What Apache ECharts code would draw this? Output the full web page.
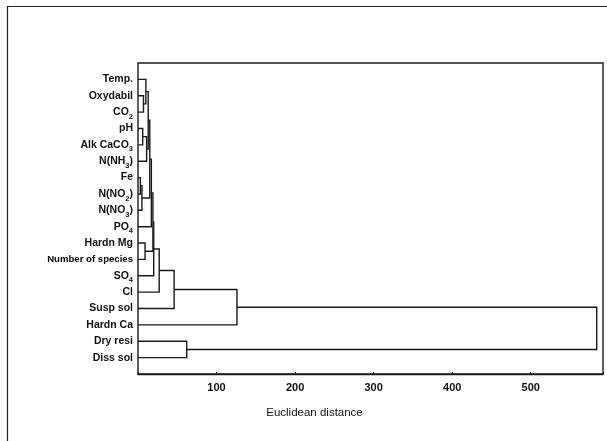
<!DOCTYPE html>
<html>
<head>
<meta charset="utf-8">
<script src="https://cdn.jsdelivr.net/npm/echarts@6/dist/echarts.min.js"></script>
<style>
html,body{margin:0;padding:0;background:#fff;}
#c{width:607px;height:441px;}
</style>
</head>
<body>
<div id="c"></div>
<script>
// Leaf variables, top to bottom (rich markup for subscripts)
const leafNames = ['Temp.', 'Oxydabil', 'CO{s|2}', 'pH', 'Alk CaCO{s|3}', 'N(NH{s|3})', 'Fe',
  'N(NO{s|2})', 'N(NO{s|3})', 'PO{s|4}', 'Hardn Mg', '{n|Number of species}', 'SO{s|4}', 'Cl',
  'Susp sol', 'Hardn Ca', 'Dry resi', 'Diss sol'];
// Merges: indices < 18 are leaves, index 18 + k is the k-th merge
const mergeLeft  = [1, 0, 3, 20, 6, 22, 19, 24, 25, 10, 26, 28, 29, 30, 31, 16, 32];
const mergeRight = [2, 18, 4, 5, 7, 8, 21, 23, 9, 11, 27, 12, 13, 14, 15, 17, 33];
const mergeDist  = [7, 10, 6, 11, 3, 5, 13, 15, 17, 9, 19, 20, 27, 46, 126, 62, 584];
const xTicks = [100, 200, 300, 400, 500];

const nLeaf = leafNames.length;
const nodeX = [], nodeY = [];
for (let i = 0; i < nLeaf; i++) { nodeX.push(0); nodeY.push(i + 1); }
const segs = [];
for (let k = 0; k < mergeDist.length; k++) {
  const a = mergeLeft[k], b = mergeRight[k], d = mergeDist[k];
  segs.push([nodeX[a], nodeY[a], nodeX[b], nodeY[b], d]);
  nodeX.push(d); nodeY.push((nodeY[a] + nodeY[b]) / 2);
}

const chart = echarts.init(document.getElementById('c'));
const lineColor = '#1a1a1a';
chart.setOption({
  backgroundColor: '#fff',
  animation: false,
  graphic: [{
    type: 'rect', left: 5, top: 4,
    shape: { width: 640, height: 470 },
    style: { fill: 'none', stroke: '#222', lineWidth: 1.2 }
  }],
  grid: { left: 138, right: 4, top: 63, bottom: 67, show: true, borderColor: lineColor, borderWidth: 1.4, backgroundColor: 'transparent' },
  xAxis: {
    type: 'value', min: 0, max: 592, interval: 100,
    axisLine: { show: true, onZero: false, lineStyle: { color: lineColor, width: 1.4 } },
    axisTick: { show: true, inside: true, length: 2, lineStyle: { color: lineColor } },
    splitLine: { show: false },
    axisLabel: {
      margin: 8, color: '#111', fontFamily: 'Liberation Sans', fontWeight: 'bold', fontSize: 11,
      formatter: v => xTicks.indexOf(v) >= 0 ? String(v) : ''
    },
    name: 'Euclidean distance', nameLocation: 'middle', nameGap: 33,
    nameTextStyle: { color: '#111', fontFamily: 'Liberation Sans', fontSize: 11.5, padding: [0, 112, 0, 0] }
  },
  yAxis: {
    type: 'value', min: 0, max: nLeaf + 1, interval: 1, inverse: true,
    axisLine: { show: false }, axisTick: { show: false }, splitLine: { show: false },
    axisLabel: {
      margin: 5, color: '#111', fontFamily: 'Liberation Sans', fontWeight: 'bold', fontSize: 10.5,
      formatter: v => (v >= 1 && v <= nLeaf) ? leafNames[v - 1] : '',
      rich: {
        s: { fontSize: 7.5, fontWeight: 'bold', fontFamily: 'Liberation Sans', color: '#111', verticalAlign: 'bottom', lineHeight: 17 },
        n: { fontSize: 9.6, fontWeight: 'bold', fontFamily: 'Liberation Sans Narrow, Liberation Sans', color: '#000' }
      }
    }
  },
  series: [{
    type: 'custom',
    coordinateSystem: 'cartesian2d',
    clip: false,
    data: segs,
    encode: { x: [0, 2, 4], y: [1, 3] },
    renderItem: function (params, api) {
      const x1 = api.value(0), y1 = api.value(1), x2 = api.value(2), y2 = api.value(3), d = api.value(4);
      const pts = [api.coord([x1, y1]), api.coord([d, y1]), api.coord([d, y2]), api.coord([x2, y2])];
      return { type: 'polyline', shape: { points: pts }, style: { fill: 'none', stroke: lineColor, lineWidth: 1.4 } };
    }
  }]
});
</script>
</body>
</html>
